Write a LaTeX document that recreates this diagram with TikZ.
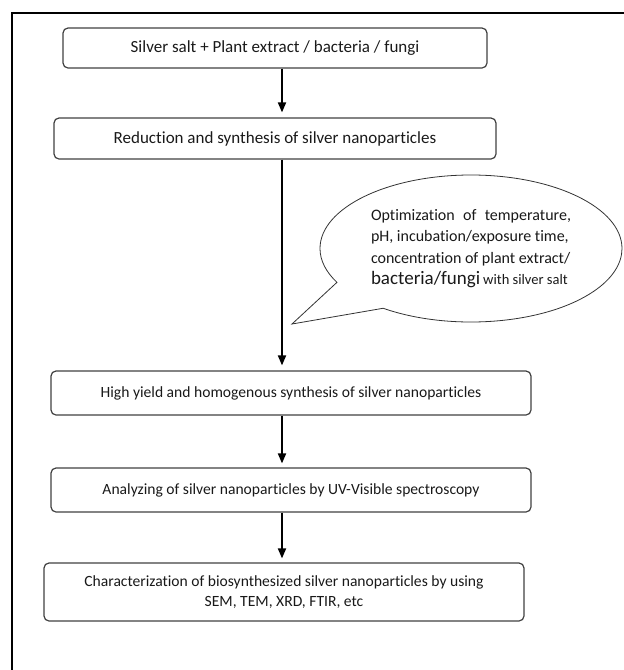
\documentclass[tikz,border=0pt]{standalone}
\usepackage{fontspec}
\setmainfont{Carlito}[Ligatures=NoCommon]
\usetikzlibrary{shapes.callouts,arrows.meta}
\begin{document}
\begin{tikzpicture}[x=1pt,y=-1pt,
  box/.style={draw=black!75, line width=1.2pt, rounded corners=5pt, inner sep=0pt, text=black!90, align=center},
  bigtext/.style={font=\fontsize{17}{20}\selectfont},
  smalltext/.style={font=\fontsize{15.6}{20}\selectfont},
  arr/.style={line width=1.8pt, -{Triangle[width=8pt,length=10pt]}, shorten >=4pt},
  frameline/.style={line width=2pt}]
\useasboundingbox (0,0) rectangle (624,670);
\draw[frameline] (12,670) -- (12,13) -- (624,13);
\coordinate (ax) at (282,0);
\coordinate (tip) at (292,324);
\node[box, bigtext, minimum width=424pt, minimum height=40pt] (b1) at (275,48) {Silver salt + Plant extract / bacteria / fungi};
\node[box, bigtext, minimum width=442pt, minimum height=41pt] (b2) at (275,138.5) {Reduction and synthesis of silver nanoparticles};
\node[box, smalltext, minimum width=480pt, minimum height=44pt] (b3) at (291,393) {High yield and homogenous synthesis of silver nanoparticles};
\node[box, smalltext, minimum width=480pt, minimum height=44pt] (b4) at (291,490) {Analyzing of silver nanoparticles by UV-Visible spectroscopy};
\node[box, smalltext, minimum width=480pt, minimum height=58pt] (b5) at (284,592) {Characterization of biosynthesized silver nanoparticles by using\\SEM, TEM, XRD, FTIR, etc};
\node[ellipse callout, draw=black!80, line width=0.8pt, minimum width=302pt, minimum height=147pt, inner sep=0pt,
  callout absolute pointer={(tip)}, callout pointer arc=27, text=black!90, align=left,
  font=\fontsize{16}{21.5}\selectfont] (c) at (471,248.5)
  {\makebox[200pt][s]{Optimization of temperature,}\\
   pH, incubation/exposure time,\\
   concentration of plant extract/\\
   {\fontsize{19}{21.5}\selectfont bacteria/fungi}\hspace{3pt}{\fontsize{14.5}{21.5}\selectfont with silver salt}};
\draw[arr, shorten >=5pt] (b1.south -| ax) -- (b2.north -| ax);
\draw[arr, shorten >=5pt] (b2.south -| ax) -- (b3.north -| ax);
\draw[arr] (b3.south -| ax) -- (b4.north -| ax);
\draw[arr] (b4.south -| ax) -- (b5.north -| ax);
\end{tikzpicture}
\end{document}
